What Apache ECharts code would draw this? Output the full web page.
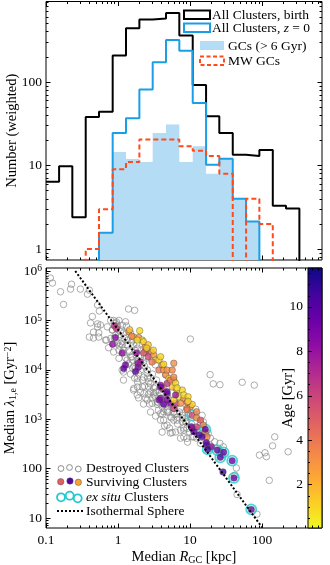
<!DOCTYPE html>
<html>
<head>
<meta charset="utf-8">
<script src="https://cdn.jsdelivr.net/npm/echarts@6/dist/echarts.min.js"></script>
<style>
  html, body { margin: 0; padding: 0; background: #fff; }
  #chart { width: 330px; height: 565px; }
</style>
</head>
<body>
<div id="chart"></div>
<script>
// histogram bin edges (kpc) and weighted counts per bin
const binEdges = [0.1, 0.152, 0.232, 0.356, 0.544, 0.843, 1.29, 1.98, 3.03, 4.64, 7.1, 10.9, 16.7, 25.5, 39.2, 60, 91.8, 141, 215, 330];
const birthCounts = [6.4, 9.8, 2.4, 38, 44, 207, 440, 560, 575, 670, 360, 92, 39, 24.5, 13.5, 13, 15.3, 3.3, 3.05];
const z0Counts = [0, 0, 0, 0, 1.57, 24.5, 36.7, 81.6, 172, 319, 236, 56, 10.2, 12.1, 4.0, 2.14, 0, 0, 0];
const gcCounts = [0, 0, 0, 0, 1.57, 14.5, 12, 11, 24.5, 31, 11, 17, 8, 12.1, 4.0, 2.14, 0, 0, 0];
const mwCounts = [0, 0, 0, 1, 3, 9, 11, 20.5, 20.5, 20.5, 17, 15, 13, 8, 0, 4, 2, 0, 0];

// destroyed clusters: [R_GC kpc, lambda Gyr^-2]
const destroyed = [
  [0.115, 7.2e5], [0.123, 5.7e5], [0.159, 3.8e5], [0.175, 2.1e5], [0.226, 5.4e5], [0.219, 4.3e5], [0.30, 4.3e5],
  [0.377, 3.4e5], [0.40, 4.1e5], [0.52, 2.05e5], [0.55, 1.55e5], [0.415, 8.9e4], [0.52, 8.5e4], [0.44, 1.2e5],
  [0.40, 4.6e4], [0.456, 4.4e4], [0.54, 5.6e4], [0.57, 8.1e4], [0.69, 4.0e4], [0.74, 2.8e4], [1.4, 1.7e5],
  [1.7, 1.6e5], [0.87, 1.0e5], [0.52, 7.4e4], [0.456, 5.8e4], [0.54, 4.6e4], [0.67, 4.0e4], [0.79, 4.3e4],
  [0.98, 8.0e4], [1.15, 8.0e4], [1.19, 5.6e4], [1.02, 5.1e4], [1.49, 5.6e4], [1.35, 4.0e4], [1.59, 4.0e4],
  [0.98, 3.5e4], [1.15, 3.2e4], [1.64, 3.2e4], [1.4, 2.5e4], [1.86, 2.75e4], [1.19, 2.2e4], [1.49, 1.8e4],
  [2.05, 2.0e4], [1.86, 1.44e4], [2.26, 1.44e4], [1.59, 1.09e4], [1.19, 9.0e3], [2.05, 9.9e3], [2.56, 9.9e3],
  [2.26, 7.1e3], [2.83, 6.9e3], [1.86, 4.5e3], [1.64, 3.9e3], [2.18, 4.5e3], [2.65, 4.5e3], [3.3, 4.5e3],
  [3.1, 3.4e3], [3.9, 3.1e3], [4.3, 2.1e3], [3.5, 2.0e3], [5.35, 2.0e3], [4.85, 1.4e3], [5.9, 1.4e3],
  [7.4, 1.69e3], [6.7, 1.1e3], [8.7, 1.06e3], [10.1, 4.2e4], [1.19, 6.2e3],
  [0.71, 7.4e4], [0.83, 6.4e4], [0.97, 7.4e4], [0.92, 5.1e4], [1.08, 5.9e4], [0.87, 3.4e4], [1.08, 3.4e4],
  [1.03, 2.5e4], [1.2, 2.5e4], [1.03, 1.71e4], [1.34, 1.58e4], [1.57, 1.84e4], [1.85, 1.58e4], [1.14, 9.9e3],
  [1.66, 1.16e4], [1.85, 6.7e3], [2.54, 8.5e3], [2.68, 5.7e3], [1.66, 4.2e3], [1.85, 3.1e3], [2.3, 3.3e3],
  [2.83, 3.6e3], [3.3, 2.85e3], [2.98, 2.1e3], [2.54, 2.45e3], [0.79, 1.0e5], [1.03, 1.0e5], [1.27, 9.4e4],
  [0.92, 8.7e4], [1.14, 3.7e4],
  [3.5, 2.26e3], [4.1, 1.8e3], [4.8, 1.53e3], [5.95, 1.66e3], [5.35, 1.12e3], [6.6, 960], [7.8, 1.2e3],
  [8.65, 890], [5.65, 540], [7.4, 600], [9.1, 650], [8.2, 440], [11.3, 440], [14.7, 1.2e3], [14, 325],
  [3.9, 1.3e3], [4.3, 960], [4.8, 760], [3.14, 3.1e3], [3.7, 2.45e3], [4.3, 1.42e3], [6.6, 1.3e3], [5.95, 960],
  [7.8, 890], [8.2, 600], [9.1, 410], [10.7, 440], [12.3, 600], [15.3, 890], [17.9, 520], [22, 350],
  [18.9, 300], [26, 325], [29, 277], [4.1, 550], [5.35, 525],
  [2.37, 2.3e4], [3.3, 1.26e4], [4.6, 7.9e3], [6.3, 4.3e3], [8.7, 2.45e3], [12, 1.6e3], [14, 840],
  [0.84, 6.4e4], [0.89, 4.4e4], [0.95, 9.3e4], [1.05, 3.03e4], [1.12, 6.4e4], [1.23, 4.4e4], [1.31, 7.7e4],
  [0.87, 2.3e4], [1.35, 3.2e4], [1.44, 2.3e4], [1.54, 3.66e4], [1.7, 2.52e4], [1.81, 3.3e4], [1.27, 1.73e4],
  [1.4, 1.31e4], [1.59, 1.58e4], [1.75, 1.09e4], [1.93, 1.9e4], [1.99, 1.19e4], [2.12, 2.52e4], [1.49, 8.2e3],
  [1.7, 6.8e3], [1.93, 8.2e3], [2.19, 6.2e3], [2.33, 1.19e4], [2.49, 1.73e4], [2.57, 6.8e3], [1.87, 5.7e3],
  [2.05, 3.55e3], [2.33, 4.7e3], [2.65, 3.2e3], [2.83, 5.2e3], [3.01, 8.2e3], [3.11, 4.3e3], [3.43, 6.2e3],
  [2.41, 2.7e3], [2.74, 2.03e3], [3.01, 2.7e3], [3.32, 3.55e3], [3.54, 2.2e3], [3.77, 3.9e3], [4.02, 2.7e3],
  [4.29, 4.3e3], [3.65, 1.53e3], [4.15, 1.27e3], [4.57, 2.03e3], [4.87, 2.95e3], [5.02, 1.4e3], [5.35, 2.45e3],
  [5.53, 1.06e3], [6.08, 1.27e3], [6.5, 2.03e3], [6.71, 800], [7.15, 1.4e3], [7.87, 1.06e3], [8.12, 664],
  [8.93, 880], [9.54, 1.27e3], [9.85, 550], [10.5, 800], [11.6, 600], [12.3, 415], [13.6, 664], [14.4, 380],
  [15.9, 550], [16.9, 285], [19.2, 415], [3.89, 960], [4.43, 730], [5.19, 664], [6.29, 550], [7.39, 415],
  [9.24, 345], [2.83, 1.4e3], [3.32, 1.16e3], [2.26, 2.03e3], [1.93, 2.7e3],
  [19, 8.0e3], [21, 5.2e3], [26, 5.0e3], [53, 5.6e3], [78, 4.9e3], [92, 188], [110, 210], [115, 175],
  [140, 290], [150, 440], [126, 58], [230, 220], [44, 103], [42, 74], [45, 30], [85, 12]
];

// surviving clusters: [R_GC kpc, lambda Gyr^-2, age Gyr]
const surviving = [
  [0.89, 7.8e4, 6.5], [0.95, 6.9e4, 6.2], [0.92, 4.5e4, 8.5], [0.84, 3.3e4, 8.2],
  [1.14, 2.2e4, 8.3], [1.27, 1.25e4, 9.2], [1.2, 1.07e4, 9.5], [1.75, 9.2e3, 9.6],
  [1.9, 1.12e4, 8.8], [1.9, 1.36e4, 8.2], [2.05, 1.44e4, 7.5], [1.8, 2.2e4, 8.0],
  [1.41, 5.9e4, 3.0], [1.45, 6.5e4, 1.5], [2.0, 6.2e4, 0.8], [1.66, 4.6e4, 1.5],
  [1.94, 4.5e4, 3.0], [2.17, 4.0e4, 0.8], [2.26, 3.7e4, 1.2], [2.37, 2.85e4, 3.5],
  [2.63, 3.2e4, 1.5], [2.5, 2.5e4, 6.0], [2.26, 2.2e4, 5.0], [2.9, 2.3e4, 4.0],
  [2.63, 1.84e4, 6.0], [3.14, 2.0e4, 3.0], [3.3, 1.58e4, 1.5], [3.7, 1.58e4, 1.0],
  [2.97, 1.44e4, 4.0], [3.9, 1.84e4, 1.0], [4.1, 1.25e4, 3.0], [3.7, 9.9e3, 4.0],
  [4.3, 9.9e3, 3.0], [4.6, 7.9e3, 3.5], [5.95, 1.36e4, 3.2], [5.1, 6.7e3, 1.0],
  [5.95, 6.2e3, 3.0], [5.65, 4.5e3, 1.5], [6.6, 3.9e3, 1.2], [7.8, 3.9e3, 1.0],
  [7.0, 2.85e3, 0.8], [8.2, 2.65e3, 3.0], [4.8, 5.3e3, 6.5], [4.1, 4.2e3, 5.5],
  [3.9, 4.9e3, 8.0], [4.8, 3.3e3, 8.0], [3.9, 2.65e3, 8.5], [6.3, 2.1e3, 6.5],
  [5.35, 2.1e3, 8.5], [5.95, 1.66e3, 6.0], [9.1, 1.66e3, 3.0], [10.1, 1.8e3, 3.0],
  [10.7, 2.0e3, 1.2], [10.7, 1.2e3, 6.0], [12.3, 1.07e3, 3.0],
  [1.55, 4.8e4, 3.5], [1.85, 4.0e4, 1.0], [2.5, 2.75e4, 1.0], [3.1, 2.5e4, 1.0],
  [4.3, 1.3e4, 1.0], [4.8, 9.9e3, 3.0], [5.65, 9.9e3, 3.5], [5.35, 6.2e3, 4.0],
  [6.3, 5.4e3, 1.0], [6.6, 4.3e3, 0.8], [8.2, 3.1e3, 0.8], [9.4, 2.85e3, 1.0],
  [9.1, 2.2e3, 3.5], [5.95, 7.1e3, 3.5], [5.95, 2.45e3, 1.0], [7.4, 2.1e3, 3.0],
  [9.4, 2.3e3, 1.0], [12.3, 1.42e3, 3.5], [9.1, 1.55e3, 4.0], [14, 960, 5.0],
  [12.3, 700, 6.0], [15.3, 760, 3.5], [16.3, 530, 3.5], [17.2, 440, 3.5],
  [3.9, 4.5e3, 9.0], [4.8, 3.6e3, 9.5], [3.75, 2.45e3, 9.0], [4.8, 2.45e3, 8.5],
  [4.3, 2.0e3, 9.5], [6.3, 3.1e3, 8.0],
  [10.4, 705, 9.5], [10.7, 650, 8.0], [11.3, 560, 9.5], [13.4, 480, 10.5],
  [14.7, 440, 10.0], [17.2, 300, 8.0], [16.8, 335, 10.0], [19.8, 277, 8.0], [28.7, 86, 10.5],
  [16.3, 625, 9.5], [17.6, 245, 11.0], [23.9, 238, 10.0], [29.3, 214, 9.5],
  [26.3, 170, 10.0], [38.5, 145, 9.5], [40.7, 65, 9.5], [70.8, 15, 9.5]
];

// ex situ clusters (ringed): [R_GC kpc, lambda Gyr^-2]
const exSitu = [[10.7, 1.2e3], [16.3, 625], [17.6, 245], [23.9, 238], [29.3, 214], [26.3, 170], [38.5, 145], [40.7, 65], [70.8, 15]];

// isothermal sphere reference line
const isoR = [0.255, 100];
const isoLambda = [1.0e6, 6.5];

// tick labels
const xMajor = [0.1, 1, 10, 100];
const topYMajor = [1, 10, 100];
const botYMajor = [10, 100, 1e3, 1e4, 1e5, 1e6];
const ageMajor = [2, 4, 6, 8, 10];

const X_MIN = 0.1, X_MAX = 680;
const TOP_MIN = 0.74, TOP_MAX = 920;
const BOT_MIN = 6.3, BOT_MAX = 1.15e6;
const AGE_MIN = 0.05, AGE_MAX = 11.75;

const FONT = 'Liberation Serif';
const BLUE = '#1a9fe6';
const LIGHT = '#b4dcf4';
const RED = '#ff4a1d';
const CYAN = '#22c9cf';
const GRAY = '#8d8d8d';
const PLASMA = ['#0d0887', '#41049d', '#6a00a8', '#8f0da4', '#b12a90', '#cc4778', '#e16462', '#f2844b', '#fca636', '#fcce25', '#f0f921'];

function minorTicks(lo, hi) {
  const out = [];
  for (let d = 0.01; d <= 1e6; d *= 10) {
    for (let m = 2; m <= 9; m++) {
      const v = +(m * d).toPrecision(3);
      if (v >= lo && v <= hi) out.push(v);
    }
  }
  return out;
}
const xMinor = minorTicks(X_MIN, X_MAX);
const topYMinor = minorTicks(TOP_MIN, TOP_MAX);
const botYMinor = minorTicks(BOT_MIN, BOT_MAX);
const ageMinor = [];
for (let a = 0.5; a < AGE_MAX; a += 0.5) if (a % 2 !== 0) ageMinor.push(a);

// empty bins can't sit on a log axis, push them below the visible range
const FLOOR = 0.01;
function stepData(counts) {
  const n = counts.length;
  const pts = [];
  if (!(counts[0] > 0)) pts.push([binEdges[0], FLOOR]);
  counts.forEach((c, i) => pts.push([binEdges[i], c > 0 ? c : FLOOR]));
  pts.push([binEdges[n], counts[n - 1] > 0 ? counts[n - 1] : FLOOR]);
  pts.push([binEdges[n], FLOOR]);
  return pts;
}

const labelStyle = { color: '#000', fontFamily: FONT, fontSize: 13.5 };
const nameStyle = {
  color: '#000', fontFamily: FONT, fontSize: 14.5,
  rich: {
    i: { fontFamily: FONT, fontSize: 14.5, fontStyle: 'italic' },
    sub: { fontFamily: FONT, fontSize: 10, verticalAlign: 'bottom' },
    sup: { fontFamily: FONT, fontSize: 10, verticalAlign: 'top' }
  }
};

function tickAxis(gridIndex, position, min, max, ticks, len, label, extra) {
  const ax = {
    type: 'log', logBase: 10, gridIndex, position, min, max,
    axisLine: { show: false },
    splitLine: { show: false },
    axisTick: { show: true, inside: true, length: len, customValues: ticks, lineStyle: { color: '#000', width: 1 } },
    axisLabel: { show: false }
  };
  if (label) ax.axisLabel = Object.assign({ show: true, customValues: ticks }, labelStyle, label);
  return Object.assign(ax, extra || {});
}

const powLabel = {
  margin: 4,
  formatter: v => v >= 1000 ? '{b|10}{sup|' + Math.round(Math.log10(v)) + '}' : '{b|' + Math.round(v) + '}',
  rich: {
    b: { fontFamily: FONT, fontSize: 13.5, color: '#000' },
    sup: { fontFamily: FONT, fontSize: 9.5, color: '#000', verticalAlign: 'top' }
  }
};

const xAxis = [
  tickAxis(0, 'bottom', X_MIN, X_MAX, xMajor, 4.5),
  tickAxis(0, 'bottom', X_MIN, X_MAX, xMinor, 2.5),
  tickAxis(0, 'top', X_MIN, X_MAX, xMajor, 4.5),
  tickAxis(0, 'top', X_MIN, X_MAX, xMinor, 2.5),
  tickAxis(1, 'bottom', X_MIN, X_MAX, xMajor, 4.5,
    { margin: 5, formatter: v => v < 1 ? '0.1' : String(Math.round(v)) },
    { name: 'Median {i|R}{sub|GC} [kpc]', nameLocation: 'middle', nameGap: 22, nameMoveOverlap: false, nameTextStyle: nameStyle }),
  tickAxis(1, 'bottom', X_MIN, X_MAX, xMinor, 2.5),
  tickAxis(1, 'top', X_MIN, X_MAX, xMajor, 4.5),
  tickAxis(1, 'top', X_MIN, X_MAX, xMinor, 2.5),
  { type: 'value', gridIndex: 2, show: false, min: 0, max: 1 }
];

const yAxis = [
  tickAxis(0, 'left', TOP_MIN, TOP_MAX, topYMajor, 4.5,
    { margin: 4, formatter: v => String(Math.round(v)) },
    { name: 'Number (weighted)', nameLocation: 'middle', nameGap: 26, nameMoveOverlap: false, nameTextStyle: nameStyle }),
  tickAxis(0, 'left', TOP_MIN, TOP_MAX, topYMinor, 2.5),
  tickAxis(0, 'right', TOP_MIN, TOP_MAX, topYMajor, 4.5),
  tickAxis(0, 'right', TOP_MIN, TOP_MAX, topYMinor, 2.5),
  tickAxis(1, 'left', BOT_MIN, BOT_MAX, botYMajor, 4.5, powLabel,
    { name: 'Median {i|λ}{sub|1,e} [Gyr{sup|−2}]', nameLocation: 'middle', nameGap: 28, nameMoveOverlap: false, nameTextStyle: nameStyle }),
  tickAxis(1, 'left', BOT_MIN, BOT_MAX, botYMinor, 2.5),
  {
    type: 'value', gridIndex: 2, position: 'left', min: AGE_MIN, max: AGE_MAX,
    axisLine: { show: false }, splitLine: { show: false },
    axisTick: { show: true, inside: true, length: 4, customValues: ageMajor, lineStyle: { color: '#000' } },
    axisLabel: Object.assign({ customValues: ageMajor, margin: 5 }, labelStyle),
    name: 'Age [Gyr]', nameLocation: 'middle', nameGap: 12, nameMoveOverlap: false, nameTextStyle: nameStyle
  },
  {
    type: 'value', gridIndex: 2, position: 'left', min: AGE_MIN, max: AGE_MAX,
    axisLine: { show: false }, splitLine: { show: false },
    axisTick: { show: true, inside: true, length: 2, customValues: ageMinor, lineStyle: { color: '#000' } },
    axisLabel: { show: false }
  }
];

function histSeries(name, counts, lineStyle, extra) {
  return Object.assign({
    name, type: 'line', xAxisIndex: 0, yAxisIndex: 0, step: 'end',
    data: stepData(counts), symbol: 'none', showSymbol: false, silent: true,
    lineStyle
  }, extra || {});
}

const legendGraphics = [
  // top legend
  { type: 'rect', shape: { x: 184, y: 10.5, width: 26, height: 8.5 }, style: { fill: 'none', stroke: '#000', lineWidth: 2 } },
  { type: 'rect', shape: { x: 184, y: 23.5, width: 26, height: 8.5 }, style: { fill: 'none', stroke: BLUE, lineWidth: 2 } },
  { type: 'rect', shape: { x: 200, y: 41, width: 24, height: 9 }, style: { fill: LIGHT } },
  { type: 'rect', shape: { x: 200, y: 56.5, width: 24, height: 8.5 }, style: { fill: 'none', stroke: RED, lineWidth: 2, lineDash: [4, 2.5] } },
  { type: 'text', x: 212, y: 15, style: { text: 'All Clusters, birth', fill: '#000', fontFamily: FONT, fontSize: 13.5, verticalAlign: 'middle' } },
  { type: 'text', x: 212, y: 28.5, style: { text: 'All Clusters, {i|z} = 0', fill: '#000', fontFamily: FONT, fontSize: 13.5, verticalAlign: 'middle',
      rich: { i: { fontFamily: FONT, fontSize: 13.5, fontStyle: 'italic', fill: '#000' } } } },
  { type: 'text', x: 228, y: 46, style: { text: 'GCs (> 6 Gyr)', fill: '#000', fontFamily: FONT, fontSize: 13.5, verticalAlign: 'middle' } },
  { type: 'text', x: 228, y: 61.5, style: { text: 'MW GCs', fill: '#000', fontFamily: FONT, fontSize: 13.5, verticalAlign: 'middle' } },
  // bottom legend
  { type: 'circle', shape: { cx: 61, cy: 468.5, r: 2.9 }, style: { fill: 'none', stroke: GRAY, lineWidth: 1 } },
  { type: 'circle', shape: { cx: 69.5, cy: 467.5, r: 2.9 }, style: { fill: 'none', stroke: GRAY, lineWidth: 1 } },
  { type: 'circle', shape: { cx: 78.3, cy: 469, r: 2.9 }, style: { fill: 'none', stroke: GRAY, lineWidth: 1 } },
  { type: 'circle', shape: { cx: 60.7, cy: 481.7, r: 3.2 }, style: { fill: '#e3605c', stroke: '#555', lineWidth: 0.5 } },
  { type: 'circle', shape: { cx: 70, cy: 481, r: 3.2 }, style: { fill: '#5602a4', stroke: '#555', lineWidth: 0.5 } },
  { type: 'circle', shape: { cx: 78.3, cy: 482.3, r: 3.2 }, style: { fill: '#f8a233', stroke: '#555', lineWidth: 0.5 } },
  { type: 'circle', shape: { cx: 61, cy: 497.3, r: 4 }, style: { fill: 'none', stroke: CYAN, lineWidth: 1.8 } },
  { type: 'circle', shape: { cx: 69.7, cy: 495.7, r: 4 }, style: { fill: 'none', stroke: CYAN, lineWidth: 1.8 } },
  { type: 'circle', shape: { cx: 77.7, cy: 498.3, r: 4 }, style: { fill: 'none', stroke: CYAN, lineWidth: 1.8 } },
  { type: 'line', shape: { x1: 57, y1: 511, x2: 83, y2: 511 }, style: { stroke: '#000', lineWidth: 2, lineDash: [2, 2] } },
  { type: 'text', x: 86, y: 468.5, style: { text: 'Destroyed Clusters', fill: '#000', fontFamily: FONT, fontSize: 13.5, verticalAlign: 'middle' } },
  { type: 'text', x: 86, y: 482, style: { text: 'Surviving Clusters', fill: '#000', fontFamily: FONT, fontSize: 13.5, verticalAlign: 'middle' } },
  { type: 'text', x: 86, y: 497.5, style: { text: '{i|ex situ} Clusters', fill: '#000', fontFamily: FONT, fontSize: 13.5, verticalAlign: 'middle',
      rich: { i: { fontFamily: FONT, fontSize: 13.5, fontStyle: 'italic', fill: '#000' } } } },
  { type: 'text', x: 86, y: 511, style: { text: 'Isothermal Sphere', fill: '#000', fontFamily: FONT, fontSize: 13.5, verticalAlign: 'middle' } }
];

const option = {
  animation: false,
  backgroundColor: '#fff',
  grid: [
    { left: 46, top: 1.5, width: 276, height: 258.5, outerBoundsMode: 'none', containLabel: false,
      show: true, borderColor: '#000', borderWidth: 1, backgroundColor: 'transparent' },
    { left: 46, top: 268, width: 276, height: 260, outerBoundsMode: 'none', containLabel: false,
      show: true, borderColor: '#000', borderWidth: 1, backgroundColor: 'transparent' },
    { left: 308, top: 268, width: 14, height: 260, outerBoundsMode: 'none', containLabel: false,
      show: true, borderColor: '#000', borderWidth: 1,
      backgroundColor: new echarts.graphic.LinearGradient(0, 0, 0, 1, PLASMA.map((c, i) => ({ offset: i / (PLASMA.length - 1), color: c }))) }
  ],
  xAxis,
  yAxis,
  visualMap: {
    type: 'continuous', show: false, seriesIndex: 7, dimension: 2,
    min: AGE_MIN, max: AGE_MAX,
    inRange: { color: PLASMA.slice().reverse() }
  },
  graphic: legendGraphics,
  series: [
    histSeries('GCs (> 6 Gyr)', gcCounts, { width: 0, opacity: 0 }, { areaStyle: { color: LIGHT, opacity: 1, origin: 'start' } }),
    histSeries('All Clusters, birth', birthCounts, { color: '#000', width: 2 }),
    histSeries('All Clusters, z = 0', z0Counts, { color: BLUE, width: 2 }),
    histSeries('MW GCs', mwCounts, { color: RED, width: 2, type: [5, 3] }),
    {
      name: 'Destroyed Clusters', type: 'scatter', xAxisIndex: 4, yAxisIndex: 4, silent: true,
      data: destroyed, symbol: 'circle', symbolSize: 6.5,
      itemStyle: { color: 'rgba(255,255,255,0)', borderColor: GRAY, borderWidth: 0.9 }
    },
    {
      name: 'Isothermal Sphere', type: 'line', xAxisIndex: 4, yAxisIndex: 4, silent: true,
      data: isoR.map((r, i) => [r, isoLambda[i]]), symbol: 'none',
      lineStyle: { color: '#000', width: 2, type: [2, 2] }
    },
    {
      name: 'ex situ Clusters', type: 'scatter', xAxisIndex: 4, yAxisIndex: 4, silent: true,
      data: exSitu, symbol: 'circle', symbolSize: 10,
      itemStyle: { color: 'rgba(255,255,255,0)', borderColor: CYAN, borderWidth: 1.8 }
    },
    {
      name: 'Surviving Clusters', type: 'scatter', xAxisIndex: 4, yAxisIndex: 4, silent: true,
      data: surviving, symbol: 'circle', symbolSize: 6.5,
      itemStyle: { borderColor: '#444', borderWidth: 0.5 }
    }
  ]
};

const chart = echarts.init(document.getElementById('chart'));
chart.setOption(option);
</script>
</body>
</html>
